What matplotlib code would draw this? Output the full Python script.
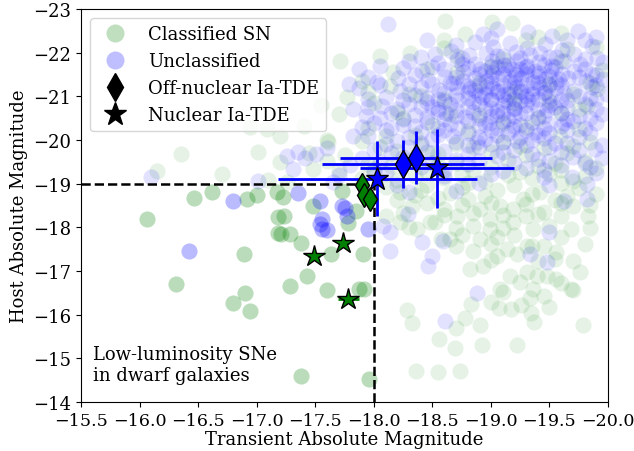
import numpy as np
import matplotlib.pyplot as plt
from matplotlib.lines import Line2D

plt.rcParams['font.family'] = 'serif'
plt.rcParams['font.size'] = 13
plt.rcParams['xtick.labelsize'] = 12.6

# (transient abs mag, host abs mag)
classified = [
    # top of the cloud
    (-18.61, -22.72), (-19.01, -22.70), (-19.18, -22.68), (-18.78, -22.42), (-19.40, -22.35), (-19.60, -22.44),
    (-18.31, -22.00), (-18.60, -22.10), (-19.65, -22.08), (-19.90, -22.12), (-17.71, -21.80), (-18.05, -21.92),
    (-18.71, -21.92), (-19.10, -21.85), (-18.16, -21.55), (-18.45, -21.62), (-18.71, -21.55), (-19.95, -21.60),
    (-18.14, -21.23), (-17.90, -21.35), (-19.50, -21.28), (-19.85, -21.30), (-17.77, -20.98), (-18.30, -21.05),
    (-18.60, -20.95), (-19.91, -21.16), (-19.70, -21.05), (-17.55, -20.80), (-18.00, -20.85), (-19.82, -20.77),
    (-19.20, -20.85), (-17.70, -20.60), (-18.20, -20.65), (-18.90, -20.58), (-19.60, -20.62),
    (-16.94, -20.29), (-17.09, -20.25), (-17.40, -20.32), (-17.95, -20.28), (-18.50, -20.35), (-19.30, -20.30),
    (-19.75, -20.25), (-17.20, -20.10), (-17.60, -20.00), (-18.35, -20.12), (-19.59, -20.09), (-19.85, -19.95),
    (-17.61, -19.95), (-17.90, -19.98), (-18.70, -19.92), (-19.10, -19.96),
    (-16.35, -19.67), (-17.01, -19.72), (-17.45, -19.70), (-17.75, -19.66), (-18.20, -19.74), (-18.55, -19.68),
    (-19.00, -19.72), (-19.30, -19.65), (-19.65, -19.70), (-17.20, -19.50), (-17.60, -19.52), (-17.95, -19.46),
    (-18.30, -19.53), (-18.70, -19.48), (-19.15, -19.55), (-19.55, -19.47), (-19.80, -19.52),
    (-16.15, -19.29), (-16.70, -19.22), (-17.48, -19.33), (-17.70, -19.28), (-18.00, -19.34), (-18.45, -19.27),
    (-18.85, -19.32), (-19.25, -19.26), (-19.60, -19.31), (-17.10, -19.08), (-17.26, -19.03), (-17.90, -19.12),
    (-18.22, -18.80), (-18.20, -19.08), (-18.60, -19.14), (-18.95, -19.06), (-19.35, -19.12), (-19.70, -19.07),
    (-18.10, -18.92), (-18.40, -18.86), (-18.75, -18.93), (-19.05, -18.85), (-19.42, -18.80), (-19.75, -18.90),
    (-18.20, -18.62), (-18.55, -18.68), (-18.80, -18.65), (-19.08, -18.49), (-19.27, -18.65), (-19.55, -18.62),
    (-18.33, -18.49), (-18.60, -18.42), (-18.91, -18.42), (-19.19, -18.42), (-19.45, -18.35), (-19.70, -18.48),
    (-18.10, -18.25), (-18.48, -18.12), (-18.71, -18.26), (-18.99, -18.19), (-19.30, -18.27), (-19.83, -18.26),
    (-18.22, -18.12), (-18.52, -18.12), (-19.19, -18.12), (-18.37, -17.96), (-18.99, -17.96), (-19.36, -17.96),
    (-19.68, -17.96), (-18.57, -17.73), (-18.65, -17.73), (-18.91, -17.73), (-19.31, -17.57), (-19.45, -17.57),
    (-18.85, -17.46), (-19.05, -17.34), (-19.14, -17.50), (-19.22, -17.39), (-19.56, -17.43), (-18.93, -17.11),
    (-19.70, -17.23), (-18.82, -17.04), (-19.76, -16.97), (-19.16, -16.88), (-19.31, -16.97), (-19.39, -16.88),
    (-19.48, -16.88), (-19.56, -16.81), (-19.08, -16.59), (-19.68, -16.59), (-19.70, -16.56), (-19.36, -16.59),
    (-19.10, -16.52), (-19.45, -16.43), (-19.33, -16.38), (-19.00, -16.29), (-18.83, -16.24), (-18.28, -16.12),
    (-19.07, -16.15), (-19.17, -16.13), (-19.26, -16.22), (-19.50, -16.17), (-18.78, -15.92), (-19.34, -16.04),
    (-18.33, -15.81), (-18.70, -15.69), (-18.91, -15.76), (-19.37, -15.83), (-19.79, -15.76), (-18.56, -15.44),
    (-18.69, -15.24), (-18.92, -15.30), (-19.22, -15.30), (-18.36, -14.71), (-18.55, -14.69), (-18.74, -14.71),
    # filling the middle band
    (-18.05, -19.85), (-18.40, -19.88), (-18.85, -19.83), (-19.25, -19.86), (-19.45, -19.82), (-19.70, -19.87),
    (-18.15, -19.40), (-18.55, -19.42), (-19.00, -19.38), (-19.40, -19.41), (-19.90, -19.37),
    (-18.35, -19.18), (-18.75, -19.22), (-19.15, -19.19), (-19.50, -19.23), (-19.80, -19.18),
    (-18.45, -18.98), (-18.80, -19.02), (-19.20, -18.97), (-19.60, -19.01),
    (-18.35, -18.74), (-18.65, -18.78), (-18.95, -18.73), (-19.35, -18.77), (-19.65, -18.72), (-19.90, -18.76),
    (-18.45, -18.55), (-18.75, -18.52), (-19.00, -18.57), (-19.30, -18.53), (-19.60, -18.56), (-19.85, -18.52),
    (-18.25, -18.32), (-18.60, -18.28), (-18.85, -18.33), (-19.10, -18.29), (-19.40, -18.31), (-19.60, -18.27),
    (-18.30, -18.02), (-18.70, -17.98), (-18.85, -18.04), (-19.10, -17.99), (-19.50, -18.03), (-19.85, -17.98),
    (-18.75, -17.82), (-19.05, -17.78), (-19.20, -17.83), (-19.60, -17.79),
    (-18.70, -17.58), (-19.00, -17.62), (-19.35, -17.58), (-19.80, -17.63),
    (-19.00, -17.25), (-19.40, -17.22), (-19.55, -17.28), (-19.25, -16.75), (-19.60, -16.72),
    (-18.90, -21.30), (-19.20, -21.10), (-19.50, -20.90), (-18.80, -20.20), (-19.40, -20.50), (-19.00, -21.70),
    (-19.60, -21.80), (-18.40, -21.00), (-18.25, -20.50), (-19.75, -20.70), (-18.60, -22.30), (-19.30, -22.30),
    (-17.95, -21.10), (-18.50, -19.70), (-18.10, -20.10), (-18.65, -20.60), (-19.10, -20.40),
    # low-luminosity corner
    (-16.06, -18.19), (-16.46, -18.68), (-16.62, -18.82), (-16.92, -18.65), (-17.00, -18.74), (-16.89, -17.39),
    (-16.31, -16.70), (-16.80, -16.28), (-16.90, -16.49), (-16.94, -16.08), (-17.18, -18.23), (-17.18, -17.88),
    (-17.21, -17.85), (-17.28, -17.84), (-17.38, -17.65), (-17.43, -16.88), (-17.28, -16.65), (-17.60, -16.56),
    (-17.63, -17.39), (-17.78, -18.10), (-17.91, -17.39), (-17.87, -16.59), (-17.92, -16.60), (-17.38, -14.60),
    (-17.96, -14.53), (-17.17, -18.81), (-17.22, -18.70), (-17.23, -18.26), (-17.48, -18.49), (-17.73, -18.84),
    (-17.85, -18.38),
]

unclassified = [
    (-18.12, -22.65), (-18.93, -22.42), (-19.05, -22.55), (-19.32, -22.48), (-19.52, -22.38), (-19.74, -22.49),
    (-19.80, -22.30), (-18.70, -22.18), (-18.86, -22.25), (-19.02, -22.12), (-19.16, -22.22), (-19.31, -22.10),
    (-19.46, -22.20), (-19.61, -22.05), (-19.86, -22.15), (-18.52, -21.98), (-18.66, -22.03), (-18.81, -21.95),
    (-18.96, -22.00), (-19.10, -21.92), (-19.21, -22.02), (-19.33, -21.95), (-19.42, -22.00), (-19.56, -21.90),
    (-19.71, -21.97), (-19.91, -21.88), (-17.87, -21.62), (-18.30, -21.80), (-18.55, -21.76), (-18.71, -21.83),
    (-18.86, -21.74), (-19.01, -21.81), (-19.11, -21.72), (-19.22, -21.80), (-19.31, -21.70), (-19.41, -21.78),
    (-19.52, -21.70), (-19.62, -21.82), (-19.76, -21.73), (-19.96, -21.78), (-18.05, -21.69), (-18.41, -21.58),
    (-18.60, -21.62), (-18.76, -21.55), (-18.91, -21.63), (-19.02, -21.55), (-19.12, -21.62), (-19.21, -21.52),
    (-19.31, -21.60), (-19.41, -21.53), (-19.51, -21.60), (-19.61, -21.52), (-19.71, -21.58), (-19.86, -21.50),
    (-17.79, -21.28), (-18.03, -21.32), (-18.21, -21.42), (-18.46, -21.38), (-18.61, -21.44), (-18.76, -21.36),
    (-18.86, -21.43), (-18.96, -21.35), (-19.06, -21.42), (-19.16, -21.34), (-19.26, -21.41), (-19.36, -21.33),
    (-19.46, -21.40), (-19.56, -21.32), (-19.66, -21.42), (-19.81, -21.35), (-19.96, -21.40), (-17.87, -21.20),
    (-18.22, -21.12), (-18.40, -21.22), (-18.56, -21.15), (-18.71, -21.22), (-18.86, -21.14), (-18.96, -21.21),
    (-19.06, -21.13), (-19.16, -21.20), (-19.26, -21.12), (-19.36, -21.19), (-19.46, -21.11), (-19.56, -21.20),
    (-19.71, -21.13), (-19.86, -21.22), (-18.10, -20.98), (-18.35, -21.02), (-18.55, -20.95), (-18.70, -21.03),
    (-18.80, -20.96), (-18.90, -21.03), (-19.00, -20.95), (-19.10, -21.02), (-19.20, -20.94), (-19.30, -21.01),
    (-19.40, -20.93), (-19.50, -21.00), (-19.60, -20.92), (-19.75, -21.00), (-19.90, -20.95), (-19.99, -21.05),
    (-17.82, -20.70), (-18.07, -20.77), (-18.30, -20.82), (-18.50, -20.76), (-18.65, -20.83), (-18.80, -20.75),
    (-18.90, -20.82), (-19.00, -20.74), (-19.10, -20.81), (-19.20, -20.73), (-19.30, -20.80), (-19.40, -20.72),
    (-19.50, -20.80), (-19.65, -20.74), (-19.80, -20.82), (-17.93, -20.55), (-18.15, -20.62), (-18.35, -20.58),
    (-18.55, -20.64), (-18.70, -20.56), (-18.85, -20.63), (-19.00, -20.55), (-19.10, -20.62), (-19.20, -20.54),
    (-19.30, -20.61), (-19.45, -20.55), (-19.60, -20.62), (-19.75, -20.55), (-19.95, -20.60), (-18.00, -20.40),
    (-18.25, -20.35), (-18.45, -20.42), (-18.65, -20.36), (-18.80, -20.44), (-18.95, -20.37), (-19.10, -20.43),
    (-19.25, -20.35), (-19.35, -20.42), (-19.50, -20.36), (-19.70, -20.43), (-19.90, -20.38), (-17.82, -20.09),
    (-18.10, -20.22), (-18.40, -20.18), (-18.60, -20.24), (-18.80, -20.16), (-19.00, -20.23), (-19.15, -20.15),
    (-19.30, -20.22), (-19.50, -20.15), (-19.65, -20.22), (-19.85, -20.16), (-18.20, -19.98), (-18.50, -20.03),
    (-18.70, -19.96), (-18.95, -20.02), (-19.10, -19.95), (-19.35, -20.01), (-19.55, -19.94), (-19.89, -19.79),
    (-17.35, -19.72), (-17.51, -19.67), (-17.60, -19.82), (-18.00, -19.78), (-18.30, -19.84), (-18.60, -19.76),
    (-18.90, -19.83), (-19.20, -19.77), (-19.50, -19.84), (-19.75, -19.78), (-17.26, -19.63), (-17.41, -19.60),
    (-17.90, -19.58), (-18.25, -19.62), (-18.70, -19.55), (-19.05, -19.63), (-19.40, -19.56), (-19.70, -19.62),
    (-19.95, -19.58), (-17.31, -19.33), (-17.80, -19.42), (-18.40, -19.38), (-18.80, -19.44), (-19.30, -19.36),
    (-19.60, -19.43), (-19.85, -19.38), (-16.10, -19.16), (-17.01, -19.06), (-17.70, -19.20), (-18.10, -19.25),
    (-18.60, -19.18), (-19.00, -19.22), (-19.45, -19.16), (-19.69, -19.15), (-19.90, -19.24), (-17.65, -19.05),
    (-18.20, -18.98), (-18.90, -19.02), (-19.50, -18.96), (-19.82, -19.00), (-18.30, -18.80), (-18.70, -18.84),
    (-19.62, -18.60), (-19.82, -18.65),
    # dense core, extra layers
    (-18.90, -21.50), (-19.00, -21.46), (-19.10, -21.52), (-19.20, -21.45), (-19.30, -21.50), (-19.40, -21.46),
    (-18.50, -21.28), (-18.65, -21.30), (-18.90, -21.27), (-19.00, -21.31), (-19.10, -21.26), (-19.20, -21.30),
    (-19.30, -21.27), (-19.40, -21.31), (-19.50, -21.26), (-18.60, -21.08), (-18.80, -21.10), (-18.95, -21.06),
    (-19.05, -21.10), (-19.15, -21.05), (-19.25, -21.09), (-19.35, -21.05), (-19.45, -21.08), (-18.45, -20.88),
    (-18.60, -20.90), (-18.85, -20.87), (-19.00, -20.91), (-19.15, -20.86), (-19.25, -20.90), (-19.35, -20.87),
    (-18.70, -20.68), (-18.95, -20.70), (-19.05, -20.67), (-19.20, -20.71), (-19.00, -21.68), (-19.15, -21.72),
    (-19.30, -21.67), (-19.45, -21.71),
    (-18.45, -22.30), (-19.00, -22.33), (-19.65, -22.28), (-19.90, -22.35),
    (-18.40, -21.90), (-18.75, -21.88), (-19.05, -21.92), (-19.25, -21.87), (-19.50, -21.91), (-19.80, -21.86),
    (-18.25, -21.65), (-18.50, -21.68), (-18.80, -21.64), (-19.05, -21.67), (-19.25, -21.63), (-19.55, -21.66),
    (-19.80, -21.62), (-17.95, -21.45), (-18.35, -21.48), (-18.70, -21.44), (-19.50, -21.47), (-19.75, -21.45),
    (-19.90, -21.48), (-18.05, -21.25), (-18.30, -21.28), (-18.80, -21.24), (-19.60, -21.26), (-19.90, -21.27),
    (-17.95, -20.95), (-18.25, -20.92), (-18.45, -20.96), (-19.65, -20.91), (-19.85, -20.97),
    (-17.95, -20.75), (-18.20, -20.72), (-18.40, -20.76), (-18.55, -20.71), (-19.55, -20.75), (-19.90, -20.72),
    (-18.05, -20.50), (-18.25, -20.47), (-18.45, -20.52), (-18.60, -20.48), (-18.90, -20.51), (-19.15, -20.47),
    (-19.40, -20.52), (-19.65, -20.48), (-19.85, -20.51), (-17.90, -20.30), (-18.15, -20.27), (-18.35, -20.31),
    (-18.55, -20.28), (-18.90, -20.32), (-19.05, -20.27), (-19.20, -20.31), (-19.45, -20.28), (-19.60, -20.32),
    (-19.80, -20.27), (-17.95, -20.10), (-18.30, -20.07), (-18.55, -20.11), (-18.90, -20.08), (-19.05, -20.12),
    (-19.25, -20.07), (-19.40, -20.11), (-19.75, -20.06), (-18.10, -19.90), (-18.40, -19.93), (-18.80, -19.89),
    (-19.00, -19.92), (-19.30, -19.88), (-19.65, -19.93), (-19.95, -19.89), (-18.15, -19.70), (-18.45, -19.73),
    (-18.80, -19.68), (-19.10, -19.72), (-19.35, -19.69), (-19.60, -19.73), (-18.05, -19.50), (-18.50, -19.47),
    (-18.90, -19.52), (-19.20, -19.48), (-19.50, -19.51), (-19.80, -19.47), (-18.00, -19.30), (-18.60, -19.32),
    (-19.10, -19.28), (-19.45, -19.31),
    (-18.75, -21.75), (-18.95, -21.58), (-19.18, -21.62), (-19.38, -21.58), (-19.58, -21.40), (-18.68, -21.30),
    (-18.82, -21.18), (-19.02, -21.18), (-19.22, -21.22), (-19.42, -21.20), (-19.62, -21.08), (-18.72, -20.92),
    (-18.92, -20.98), (-19.12, -20.92), (-19.32, -20.95), (-19.52, -20.85), (-18.62, -20.62), (-18.78, -20.52),
    (-19.05, -20.58), (-19.25, -20.62), (-19.48, -20.68), (-18.72, -20.28), (-18.98, -20.40), (-19.18, -20.25),
    (-19.38, -20.18), (-19.62, -20.40), (-18.68, -20.10), (-18.88, -19.95), (-19.22, -19.98), (-19.45, -20.05),
    # below the cloud
    (-18.29, -18.30), (-18.08, -18.03), (-18.14, -17.89), (-18.14, -17.46), (-18.41, -17.66), (-18.46, -17.11),
    (-18.50, -17.34), (-18.59, -17.68), (-19.33, -17.39), (-19.48, -17.20), (-19.50, -17.89), (-18.88, -16.50),
    (-18.61, -15.85),
    # low-luminosity corner
    (-16.80, -18.61), (-16.42, -17.46), (-17.35, -18.78), (-17.54, -18.61), (-17.54, -18.07), (-17.56, -17.96),
    (-17.60, -17.95), (-17.73, -18.49), (-17.75, -18.45), (-17.95, -17.96), (-17.77, -18.26), (-17.56, -18.19),
]

# Ia-TDE candidates
offnuc_green_x = [-17.90, -17.92, -17.97]
offnuc_green_y = [-18.97, -18.74, -18.65]
nuc_green_x = [-17.49, -17.74, -17.78]
nuc_green_y = [-17.35, -17.65, -16.36]
nuc_green_xerr = [0.05, 0.05, 0.09]

offnuc_blue_x = [-18.25, -18.36]
offnuc_blue_y = [-19.45, -19.60]
offnuc_blue_xerr = [0.69, 0.65]
offnuc_blue_yerr = [0.55, 0.60]
nuc_blue_x = [-18.54, -18.03]
nuc_blue_y = [-19.35, -19.11]
nuc_blue_xerr = [0.66, 0.85]
nuc_blue_yerr = [0.90, 0.86]

trans_cut = -18.0
host_cut = -19.0


def draw_cloud(ax, pts, color, alpha_out):
    arr = np.array(pts)
    x, y = arr[:, 0], arr[:, 1]
    inside = (x > trans_cut) & (y > host_cut)
    ax.scatter(x[~inside], y[~inside], s=135, color=color, alpha=alpha_out, linewidths=0)
    ax.scatter(x[inside], y[inside], s=135, color=color, alpha=0.27, linewidths=0)


fig = plt.figure(figsize=(6.34, 4.52), dpi=100)
ax = fig.add_axes([0.128, 0.108, 0.831, 0.870])

draw_cloud(ax, classified, 'green', 0.1)
draw_cloud(ax, unclassified, 'blue', 0.115)

ax.plot([-15.5, trans_cut], [host_cut, host_cut], 'k--', lw=1.8, zorder=3)
ax.plot([trans_cut, trans_cut], [-14, host_cut], 'k--', lw=1.8, zorder=3)

ax.errorbar(offnuc_blue_x, offnuc_blue_y, xerr=offnuc_blue_xerr, yerr=offnuc_blue_yerr,
            fmt='d', color='blue', mfc='blue', mec='k', ms=14, elinewidth=2, zorder=5)
ax.errorbar(nuc_blue_x, nuc_blue_y, xerr=nuc_blue_xerr, yerr=nuc_blue_yerr,
            fmt='*', color='blue', mfc='blue', mec='k', ms=17, elinewidth=2, zorder=5)
ax.plot(offnuc_green_x, offnuc_green_y, 'd', color='green', mec='k', ms=12, zorder=5)
ax.errorbar(nuc_green_x, nuc_green_y, xerr=nuc_green_xerr,
            fmt='*', color='green', mfc='green', mec='k', ms=16, elinewidth=2, zorder=5)

ax.text(-15.6, -15.3, 'Low-luminosity SNe\nin dwarf galaxies', va='top', ha='left')

ax.set_xlim(-15.5, -20.0)
ax.set_ylim(-14, -23)
ax.set_xticks(np.arange(-15.5, -20.01, -0.5))
ax.set_xlabel('Transient Absolute Magnitude', labelpad=1)
ax.set_ylabel('Host Absolute Magnitude')

handles = [
    Line2D([], [], ls='', marker='o', color='green', alpha=0.25, ms=13, mew=0),
    Line2D([], [], ls='', marker='o', color='blue', alpha=0.25, ms=13, mew=0),
    Line2D([], [], ls='', marker='d', color='k', ms=14),
    Line2D([], [], ls='', marker='*', color='k', ms=17),
]
labels = ['Classified SN', 'Unclassified', 'Off-nuclear Ia-TDE', 'Nuclear Ia-TDE']
ax.legend(handles, labels, loc='upper left')

fig.savefig('out.png', dpi=100)
